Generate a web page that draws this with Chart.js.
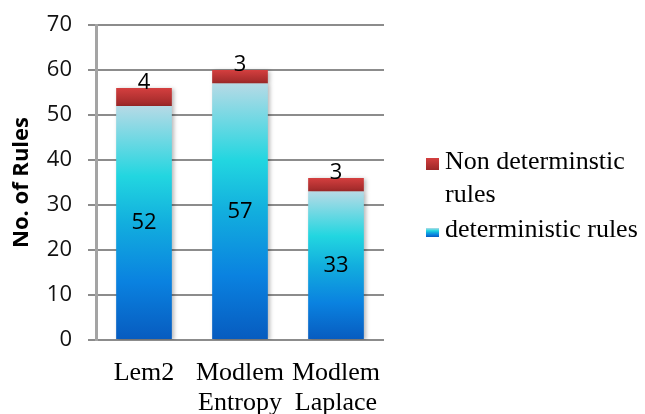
<!DOCTYPE html>
<html>
<head>
<meta charset="utf-8">
<script src="https://cdn.jsdelivr.net/npm/chart.js@4/dist/chart.umd.min.js"></script>
<style>
  html, body { margin: 0; padding: 0; background: #fff; }
  #wrap { width: 645px; height: 414px; }
</style>
</head>
<body>
<div id="wrap"><canvas id="c" width="645" height="414"></canvas></div>
<script>
// Rule counts per algorithm
const categories = [['Lem2'], ['Modlem', 'Entropy'], ['Modlem', 'Laplace']];
const deterministicRules = [52, 57, 33];
const nonDeterministicRules = [4, 3, 3];
const seriesNames = ['deterministic rules', 'Non determinstic rules'];
const legendLines = [['Non determinstic', 'rules'], ['deterministic rules']];
const yMin = 0, yMax = 70, yStep = 10;

const SERIF = '"Liberation Serif", "Times New Roman", serif';
const SANS = '"Open Sans", "Noto Sans", sans-serif';

function blueGradient(ctx, y0, y1) {
  const g = ctx.createLinearGradient(0, y0, 0, y1);
  g.addColorStop(0, '#075bbf');
  g.addColorStop(0.25, '#0a82e0');
  g.addColorStop(0.5, '#12aede');
  g.addColorStop(0.7, '#22d6e0');
  g.addColorStop(1, '#b6dae6');
  return g;
}
function redGradient(ctx, y0, y1) {
  const g = ctx.createLinearGradient(0, y0, 0, y1);
  g.addColorStop(0, '#9c2828');
  g.addColorStop(1, '#d43f3f');
  return g;
}

function segmentFill(kind) {
  return (context) => {
    const chart = context.chart;
    if (!chart.chartArea) return kind === 'blue' ? '#12aede' : '#c03535';
    const y = chart.scales.y;
    const i = context.dataIndex;
    if (kind === 'blue') {
      return blueGradient(chart.ctx, y.getPixelForValue(0), y.getPixelForValue(deterministicRules[i]));
    }
    const base = deterministicRules[i];
    return redGradient(chart.ctx, y.getPixelForValue(base), y.getPixelForValue(base + nonDeterministicRules[i]));
  };
}

// soft shadow behind the bars
const barShadow = {
  id: 'barShadow',
  beforeDatasetsDraw(chart) {
    const c = chart.ctx;
    c.save();
    c.shadowColor = 'rgba(0,0,0,0.28)';
    c.shadowBlur = 4;
    c.shadowOffsetX = 2;
    c.shadowOffsetY = 1;
  },
  afterDatasetsDraw(chart) { chart.ctx.restore(); }
};

// value labels on the segments
const valueLabels = {
  id: 'valueLabels',
  afterDatasetsDraw(chart) {
    const c = chart.ctx;
    c.save();
    c.font = '22px ' + SANS;
    c.fillStyle = '#000';
    c.textAlign = 'center';
    c.textBaseline = 'middle';
    chart.data.datasets.forEach((ds, di) => {
      const meta = chart.getDatasetMeta(di);
      meta.data.forEach((el, i) => {
        const v = ds.data[i];
        const cy = di === 0 ? (el.y + el.base) / 2 : el.y - 5;
        c.fillText(String(v), el.x, cy);
      });
    });
    c.restore();
  }
};

// legend at the right with wrapped entries
const sideLegend = {
  id: 'sideLegend',
  afterDraw(chart) {
    const c = chart.ctx;
    const a = chart.chartArea;
    const boxX = a.right + 42;
    const textX = boxX + 19;
    c.save();
    c.font = '26px ' + SERIF;
    c.fillStyle = '#000';
    c.textAlign = 'left';
    c.textBaseline = 'alphabetic';
    // red entry
    let top = a.top + 133;
    c.fillStyle = redGradient(c, top + 12, top);
    c.fillRect(boxX, top, 13, 12);
    c.fillStyle = '#000';
    legendLines[0].forEach((t, k) => c.fillText(t, textX, top + 11 + k * 33));
    // blue entry
    top = a.top + 203;
    c.fillStyle = blueGradient(c, top + 9, top);
    c.fillRect(boxX, top, 13, 9);
    c.fillStyle = '#000';
    legendLines[1].forEach((t, k) => c.fillText(t, textX, top + 9 + k * 33));
    c.restore();
  }
};

new Chart(document.getElementById('c'), {
  type: 'bar',
  data: {
    labels: categories,
    datasets: [
      { label: seriesNames[0], data: deterministicRules, backgroundColor: segmentFill('blue'),
        categoryPercentage: 1, barPercentage: 0.58 },
      { label: seriesNames[1], data: nonDeterministicRules, backgroundColor: segmentFill('red'),
        categoryPercentage: 1, barPercentage: 0.58 }
    ]
  },
  options: {
    responsive: false,
    devicePixelRatio: 1,
    animation: false,
    layout: { padding: { top: 25, right: 261, bottom: 0, left: 0 } },
    plugins: { legend: { display: false }, tooltip: { enabled: false } },
    scales: {
      x: {
        stacked: true,
        grid: { display: false },
        border: { display: false },
        ticks: {
          color: '#000',
          font: { family: SERIF, size: 26, lineHeight: 1.15 },
          padding: 10,
          maxRotation: 0, minRotation: 0, autoSkip: false
        },
        afterFit: (s) => { s.height = 74; s.paddingLeft = 0; s.paddingRight = 0; }
      },
      y: {
        stacked: true,
        min: yMin, max: yMax,
        ticks: {
          stepSize: yStep,
          color: '#111',
          font: { family: SANS, size: 22 },
          padding: 16
        },
        grid: { color: '#8c8c8c', lineWidth: 2, tickLength: 8 },
        border: { color: '#a4a4a4', width: 3 },
        title: {
          display: true,
          text: 'No. of Rules',
          color: '#000',
          font: { family: SANS, size: 22, weight: 'bold' },
          padding: { top: 9, bottom: 0 }
        },
        afterFit: (s) => { s.width = 96; s.paddingTop = 0; s.paddingBottom = 0; }
      }
    }
  },
  plugins: [barShadow, valueLabels, sideLegend]
});
</script>
</body>
</html>
